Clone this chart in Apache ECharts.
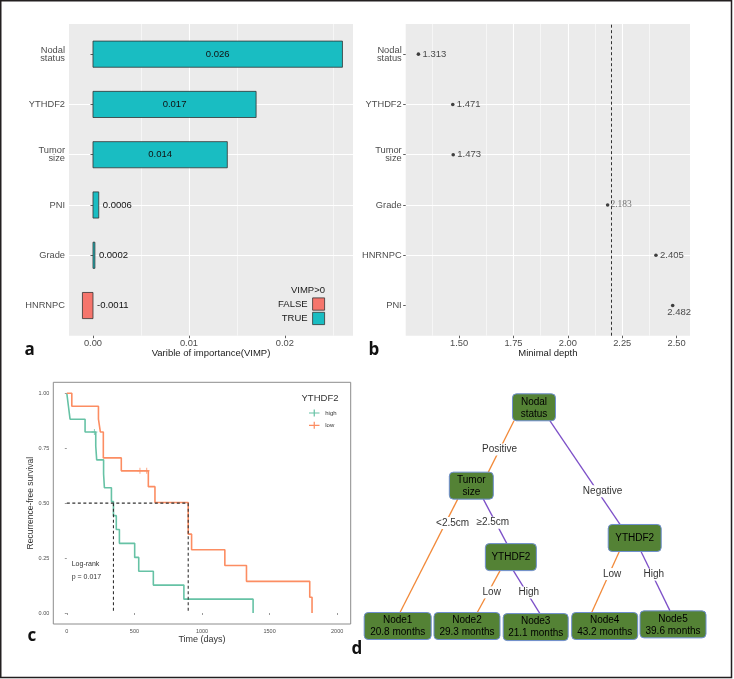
<!DOCTYPE html>
<html><head><meta charset="utf-8">
<script src="https://cdn.jsdelivr.net/npm/echarts@6/dist/echarts.min.js"></script>
<style>html,body{margin:0;padding:0;background:#fff}#c{width:734px;height:679px}</style>
</head><body><div id="c"></div>
<script>
// ---------- Panel a: variable importance ----------
const vimpLabels = ['Nodal\nstatus', 'YTHDF2', 'Tumor\nsize', 'PNI', 'Grade', 'HNRNPC'];
const vimpValues = [0.026, 0.017, 0.014, 0.0006, 0.0002, -0.0011];
const vimpTicks = [0, 0.01, 0.02];
const vimpLegend = ['FALSE', 'TRUE'];

// ---------- Panel b: minimal depth ----------
const depthLabels = ['Nodal\nstatus', 'YTHDF2', 'Tumor\nsize', 'Grade', 'HNRNPC', 'PNI'];
const depthValues = [1.313, 1.471, 1.473, 2.183, 2.405, 2.482];
const depthThreshold = 2.197;
const depthTicks = [1.5, 1.75, 2.0, 2.25, 2.5];

// ---------- Panel c: Kaplan-Meier ----------
const kmGroups = ['high', 'low'];
const kmHighTime = [0, 12, 24, 135, 214, 221, 272, 278, 330, 345, 366, 389, 502, 532, 640, 866, 1378];
const kmHighSurv = [1, 0.941, 0.882, 0.824, 0.760, 0.697, 0.633, 0.570, 0.507, 0.443, 0.380, 0.317, 0.253, 0.190, 0.127, 0.063, 0];
const kmHighCensor = [204];
const kmLowTime = [0, 37, 234, 248, 270, 403, 603, 652, 898, 923, 1169, 1329, 1797, 1814];
const kmLowSurv = [1, 0.941, 0.882, 0.824, 0.706, 0.647, 0.575, 0.503, 0.359, 0.288, 0.216, 0.144, 0.072, 0];
const kmLowCensor = [541, 591];
const kmXTicks = [0, 500, 1000, 1500, 2000];
const kmYTicks = [0, 0.25, 0.5, 0.75, 1];
const kmPText = 'Log-rank\np = 0.017';

// ---------- Panel d: decision tree ----------
const treeNodeText = ['Nodal\nstatus', 'Tumor\nsize', 'YTHDF2', 'YTHDF2',
  'Node1\n20.8 months', 'Node2\n29.3 months', 'Node3\n21.1 months', 'Node4\n43.2 months', 'Node5\n39.6 months'];
const treeParent = [-1, 0, 1, 0, 1, 2, 2, 3, 3];
const treeEdgeText = ['', 'Positive', '\u22652.5cm', 'Negative', '<2.5cm', 'Low', 'High', 'Low', 'High'];
const treeBranch = ['', 'L', 'R', 'R', 'L', 'L', 'R', 'L', 'R'];

// ---------- layout / style (not data) ----------
const treeX = [1.975, 1.067, 1.64, 3.435, 0, 1.004, 2.0, 3.0, 3.99];
const treeY = [0, 1.433, 2.74, 2.39, 4, 4, 4.02, 4, 3.97];
const boxW = [43, 44, 51, 53, 67, 66, 65, 66, 66];
const boxH = 27;
const edgeDx = [null, [-20, 17], [12, -4], [16, -14.7], [-13.6, 2.3], [-10.8, 10.3], [2.5, 4.2], [-15.4, -13], [6.3, -3]];
const edgeLabelT = [0, 0.56, 0.53, 0.68, 0.21, 0.52, 0.51, 0.37, 0.39];
const edgeLabelDx = [0, 0, -3, 5, 7, 3.5, 2, 3, 1.5];

const FONT = '"Liberation Sans", Arial, Helvetica, sans-serif';
const AXIS_TXT = '#4d4d4d';
const TEAL = '#19BDC2', SALMON = '#F5756C';
const GREEN = '#66C2A5', ORANGE = '#FC8D62';
const TREE_OR = '#F28A3A', TREE_PU = '#7D50C8';

function catFormatter(labels) {
  return function (v) {
    const k = Math.round(v);
    if (Math.abs(v - k) > 1e-6 || k < 1 || k > labels.length) return '';
    return labels[labels.length - k];
  };
}
function catAxis(gridIndex, labels) {
  const n = labels.length;
  const pos = labels.map((_, i) => i + 1);
  return {
    type: 'value', gridIndex, min: 0.4, max: n + 0.6, minInterval: 1, maxInterval: 1,
    axisLine: { show: false },
    axisTick: { show: true, length: 2.5, customValues: pos, lineStyle: { color: '#333', width: 0.8 } },
    axisLabel: { show: true, margin: 4, color: AXIS_TXT, fontSize: 9.3, fontFamily: FONT, lineHeight: 8.3,
      customValues: pos, formatter: catFormatter(labels) },
    splitLine: { show: true, showMinLine: false, showMaxLine: false, lineStyle: { color: '#fff', width: 1.1 } }
  };
}

// Panel a bars
const n = vimpLabels.length;
const posData = vimpValues.map((v, i) => [v, n - i]);
function renderBar(params, api) {
  const v = api.value(0), y = api.value(1);
  const p0 = api.coord([0, y]), p1 = api.coord([v, y]);
  const h = api.size([0, 0.52])[1];
  const big = Math.abs(v) > 0.005;
  const lx = big ? (p0[0] + p1[0]) / 2 : Math.max(p0[0], p1[0]) + 4;
  return { type: 'group', children: [
    { type: 'rect', shape: { x: Math.min(p0[0], p1[0]), y: p0[1] - h / 2, width: Math.abs(p1[0] - p0[0]), height: h },
      style: { fill: api.visual('color'), stroke: '#333', lineWidth: 0.8 } },
    { type: 'text', style: { text: String(v), x: lx, y: p0[1], align: big ? 'center' : 'left', verticalAlign: 'middle',
      font: '9.5px ' + FONT, fill: '#111' } }
  ] };
}

// Panel b points
const m = depthLabels.length;
const depthData = depthValues.map((v, i) => {
  const item = { value: [v, m - i] };
  if (depthLabels[i] === 'Grade') item.label = { fontFamily: '"Liberation Serif", "Times New Roman", serif', color: '#555', fontSize: 9.5, distance: 1 };
  if (depthLabels[i] === 'PNI') item.label = { position: [-3.6, 3.8] };
  return item;
});

// Panel c
function pairs(t, s) { return t.map((x, i) => [x, s[i]]); }
function survAt(t, times, surv) { let s = 1; for (let i = 0; i < times.length; i++) if (times[i] <= t) s = surv[i]; return s; }
function median(times, surv) { for (let i = 0; i < times.length; i++) if (surv[i] <= 0.5) return times[i]; return null; }
const medHigh = median(kmHighTime, kmHighSurv), medLow = median(kmLowTime, kmLowSurv);
const medMax = Math.max(medHigh, medLow);
const crossPath = 'path://M0,4.2L10,4.2L10,5.8L0,5.8Z M4.2,0L5.8,0L5.8,10L4.2,10Z';

// Panel d
function renderEdge(params, api) {
  const c = api.value(0), p = treeParent[c];
  const pc = api.coord([treeX[p], treeY[p]]), cc = api.coord([treeX[c], treeY[c]]);
  const s = [pc[0] + edgeDx[c][0], pc[1] + boxH / 2];
  const e = [cc[0] + edgeDx[c][1], cc[1] - boxH / 2];
  const t = edgeLabelT[c];
  const lx = s[0] + t * (e[0] - s[0]) + edgeLabelDx[c], ly = s[1] + t * (e[1] - s[1]);
  return { type: 'group', children: [
    { type: 'line', shape: { x1: s[0], y1: s[1], x2: e[0], y2: e[1] },
      style: { stroke: treeBranch[c] === 'L' ? TREE_OR : TREE_PU, lineWidth: 1.3 } },
    { type: 'text', z2: 5, style: { text: treeEdgeText[c], x: lx, y: ly, align: 'center', verticalAlign: 'middle',
      font: '10px ' + FONT, fill: '#333', backgroundColor: '#fff', padding: [1, 1] } }
  ] };
}
function renderNode(params, api) {
  const i = api.value(0);
  const c = api.coord([api.value(1), api.value(2)]);
  const w = boxW[i], h = boxH;
  return { type: 'rect', shape: { x: c[0] - w / 2, y: c[1] - h / 2, width: w, height: h, r: 4 },
    style: { fill: '#548235', stroke: '#6F8ED0', lineWidth: 1 } };
}
function renderNodeText(params, api) {
  const i = api.value(0);
  const c = api.coord([api.value(1), api.value(2)]);
  return { type: 'text', style: { text: treeNodeText[i], x: c[0], y: c[1] + 0.5, align: 'center', verticalAlign: 'middle',
    font: '10px ' + FONT, fill: '#000', lineHeight: 12 } };
}
const edgeData = treeParent.map((p, i) => [i, treeX[i], treeY[i], p]).filter(d => d[3] >= 0);
const nodeData = treeNodeText.map((_, i) => [i, treeX[i], treeY[i]]);

const option = {
  animation: false,
  backgroundColor: '#fff',
  textStyle: { fontFamily: FONT },
  grid: [
    { left: 69, top: 24, width: 284, height: 311.7, show: true, backgroundColor: '#ebebeb', borderWidth: 0, outerBoundsMode: 'none', containLabel: false },
    { left: 405.7, top: 24, width: 284.3, height: 311.7, show: true, backgroundColor: '#ebebeb', borderWidth: 0, outerBoundsMode: 'none', containLabel: false },
    { left: 53.3, top: 382.3, width: 297.4, height: 241.7, show: true, backgroundColor: '#fff', borderColor: '#8c8c8c', borderWidth: 1, outerBoundsMode: 'none', containLabel: false },
    { left: 363.2, top: 407.3, width: 345, height: 218.7, show: false, outerBoundsMode: 'none', containLabel: false }
  ],
  xAxis: [
    { type: 'value', gridIndex: 0, min: -0.0025, max: 0.0271, minInterval: 0.01, maxInterval: 0.01,
      name: 'Varible of importance(VIMP)', nameLocation: 'middle', nameGap: 13,
      nameTextStyle: { fontSize: 9.5, color: '#1a1a1a', fontFamily: FONT },
      axisLine: { show: false },
      axisTick: { show: true, length: 2.5, customValues: vimpTicks, lineStyle: { color: '#333', width: 0.8 } },
      axisLabel: { margin: 3, color: AXIS_TXT, fontSize: 9.3, fontFamily: FONT,
        customValues: vimpTicks, formatter: v => v.toFixed(2) },
      splitLine: { show: true, showMinLine: false, showMaxLine: false, lineStyle: { color: '#fff', width: 1.1 } },
      minorTick: { show: false, splitNumber: 2 },
      minorSplitLine: { show: true, lineStyle: { color: '#fff', width: 0.55 } } },
    { type: 'value', gridIndex: 1, min: 1.2546, max: 2.5616, minInterval: 0.25, maxInterval: 0.25,
      name: 'Minimal depth', nameLocation: 'middle', nameGap: 13,
      nameTextStyle: { fontSize: 9.5, color: '#1a1a1a', fontFamily: FONT },
      axisLine: { show: false },
      axisTick: { show: true, length: 2.5, customValues: depthTicks, lineStyle: { color: '#333', width: 0.8 } },
      axisLabel: { margin: 3, color: AXIS_TXT, fontSize: 9.3, fontFamily: FONT,
        customValues: depthTicks, formatter: v => v.toFixed(2) },
      splitLine: { show: true, showMinLine: false, showMaxLine: false, lineStyle: { color: '#fff', width: 1.1 } },
      minorTick: { show: false, splitNumber: 2 },
      minorSplitLine: { show: true, lineStyle: { color: '#fff', width: 0.55 } } },
    { type: 'value', gridIndex: 2, min: -100, max: 2100, minInterval: 500, maxInterval: 500,
      name: 'Time (days)', nameLocation: 'middle', nameGap: 11,
      nameTextStyle: { fontSize: 9, color: '#333', fontFamily: FONT },
      axisLine: { show: false },
      axisTick: { show: true, length: 2, customValues: kmXTicks, lineStyle: { color: '#555', width: 0.6 } },
      axisLabel: { margin: 4, color: AXIS_TXT, fontSize: 5.5, fontFamily: FONT,
        customValues: kmXTicks, formatter: v => String(v) },
      splitLine: { show: false } },
    { type: 'value', gridIndex: 3, min: -0.5, max: 4.5, show: false }
  ],
  yAxis: [
    catAxis(0, vimpLabels),
    catAxis(1, depthLabels),
    { type: 'value', gridIndex: 2, min: -0.05, max: 1.05, minInterval: 0.25, maxInterval: 0.25,
      name: 'Recurrence-free survival', nameLocation: 'middle', nameGap: 15.5,
      nameTextStyle: { fontSize: 8.5, color: '#333', fontFamily: FONT },
      axisLine: { show: false },
      axisTick: { show: true, length: 2, customValues: kmYTicks, lineStyle: { color: '#555', width: 0.6 } },
      axisLabel: { margin: 4, color: AXIS_TXT, fontSize: 5.5, fontFamily: FONT,
        customValues: kmYTicks, formatter: v => v.toFixed(2) },
      splitLine: { show: false } },
    { type: 'value', gridIndex: 3, min: 0, max: 4.1, inverse: true, show: false }
  ],
  legend: [
    { data: vimpLegend, right: 409, top: 297.5, orient: 'vertical', align: 'right', padding: 0,
      itemWidth: 12, itemHeight: 12.3, itemGap: 1.3, icon: 'rect', selectedMode: false,
      itemStyle: { borderColor: '#333', borderWidth: 0.8 },
      textStyle: { fontSize: 9.5, color: '#1a1a1a', fontFamily: FONT } },
    { data: kmGroups, left: 309, top: 409.5, orient: 'vertical', padding: 0,
      itemWidth: 12, itemHeight: 7, itemGap: 5.3, icon: 'path://M0,4.3L12,4.3L12,5.7L0,5.7Z M5.3,1L6.7,1L6.7,9L5.3,9Z', selectedMode: false,
      textStyle: { fontSize: 6, color: '#333', fontFamily: FONT } }
  ],
  series: [
    { type: 'custom', name: 'FALSE', xAxisIndex: 0, yAxisIndex: 0, renderItem: renderBar, clip: false,
      itemStyle: { color: SALMON }, encode: { x: 0, y: 1 }, data: posData.filter(d => d[0] <= 0) },
    { type: 'custom', name: 'TRUE', xAxisIndex: 0, yAxisIndex: 0, renderItem: renderBar, clip: false,
      itemStyle: { color: TEAL }, encode: { x: 0, y: 1 }, data: posData.filter(d => d[0] > 0) },
    { type: 'scatter', name: 'depth', xAxisIndex: 1, yAxisIndex: 1, symbolSize: 3.6, itemStyle: { color: '#111' },
      label: { show: true, position: 'right', distance: 2.3, fontSize: 9.5, color: '#1a1a1a', fontFamily: FONT,
        formatter: p => p.value[0].toFixed(3) },
      data: depthData,
      markLine: { silent: true, symbol: 'none', label: { show: false },
        lineStyle: { type: [3, 2.5], color: '#333', width: 1 }, data: [{ xAxis: depthThreshold }] } },
    { type: 'line', name: 'high', xAxisIndex: 2, yAxisIndex: 2, step: 'end', symbol: 'none',
      lineStyle: { width: 1.6, color: GREEN }, itemStyle: { color: GREEN }, data: pairs(kmHighTime, kmHighSurv) },
    { type: 'line', name: 'low', xAxisIndex: 2, yAxisIndex: 2, step: 'end', symbol: 'none',
      lineStyle: { width: 1.6, color: ORANGE }, itemStyle: { color: ORANGE }, data: pairs(kmLowTime, kmLowSurv) },
    { type: 'scatter', name: 'high censored', xAxisIndex: 2, yAxisIndex: 2, symbol: crossPath, symbolSize: 6,
      itemStyle: { color: GREEN }, data: kmHighCensor.map(t => [t, survAt(t, kmHighTime, kmHighSurv)]) },
    { type: 'scatter', name: 'low censored', xAxisIndex: 2, yAxisIndex: 2, symbol: crossPath, symbolSize: 6,
      itemStyle: { color: ORANGE }, data: kmLowCensor.map(t => [t, survAt(t, kmLowTime, kmLowSurv)]) },
    { type: 'line', name: 'med h', xAxisIndex: 2, yAxisIndex: 2, symbol: 'none', z: 5,
      lineStyle: { type: [3, 2.5], color: '#333', width: 1.1 }, data: [[0, 0.5], [medMax, 0.5]] },
    { type: 'line', name: 'med v1', xAxisIndex: 2, yAxisIndex: 2, symbol: 'none', z: 5,
      lineStyle: { type: [3, 2.5], color: '#333', width: 1.1 }, data: [[medHigh, 0.5], [medHigh, 0]] },
    { type: 'line', name: 'med v2', xAxisIndex: 2, yAxisIndex: 2, symbol: 'none', z: 5,
      lineStyle: { type: [3, 2.5], color: '#333', width: 1.1 }, data: [[medLow, 0.5], [medLow, 0]] },
    { type: 'custom', name: 'edges', xAxisIndex: 3, yAxisIndex: 3, renderItem: renderEdge, clip: false, z: 2,
      encode: { x: 1, y: 2 }, data: edgeData },
    { type: 'custom', name: 'nodes', xAxisIndex: 3, yAxisIndex: 3, renderItem: renderNode, clip: false, z: 3,
      encode: { x: 1, y: 2 }, data: nodeData },
    { type: 'custom', name: 'node text', xAxisIndex: 3, yAxisIndex: 3, renderItem: renderNodeText, clip: false, z: 4,
      encode: { x: 1, y: 2 }, data: nodeData }
  ],
  graphic: [
    { type: 'rect', shape: { x: 0.75, y: 0.75, width: 730.75, height: 676.75 }, style: { fill: 'none', stroke: '#231F20', lineWidth: 1.5 }, silent: true },
    { type: 'text', x: 325, y: 290, style: { text: 'VIMP>0', align: 'right', verticalAlign: 'middle', font: '9.5px ' + FONT, fill: '#1a1a1a' } },
    { type: 'text', x: 320, y: 398, style: { text: 'YTHDF2', align: 'center', verticalAlign: 'middle', font: '9.5px ' + FONT, fill: '#333' } },
    { type: 'text', x: 71.7, y: 558, style: { text: kmPText, align: 'left', verticalAlign: 'top', font: '7px ' + FONT, fill: '#333', lineHeight: 12.4 } },
    { type: 'text', x: 24.5, y: 350, style: { text: 'a', verticalAlign: 'middle', font: 'bold 17px "Open Sans", sans-serif', fill: '#111' } },
    { type: 'text', x: 368.5, y: 350, style: { text: 'b', verticalAlign: 'middle', font: 'bold 17px "Open Sans", sans-serif', fill: '#111' } },
    { type: 'text', x: 27.5, y: 636.5, style: { text: 'c', verticalAlign: 'middle', font: 'bold 17px "Open Sans", sans-serif', fill: '#111' } },
    { type: 'text', x: 351.5, y: 649, style: { text: 'd', verticalAlign: 'middle', font: 'bold 17px "Open Sans", sans-serif', fill: '#111' } }
  ]
};
// keep the tree grid height so that y = 4 still maps to the leaf row
option.grid[3].height = 218.7 * 4.1 / 4;
const chart = echarts.init(document.getElementById('c'), null, { renderer: 'canvas', width: 734, height: 679 });
chart.setOption(option);
</script>
</body></html>
